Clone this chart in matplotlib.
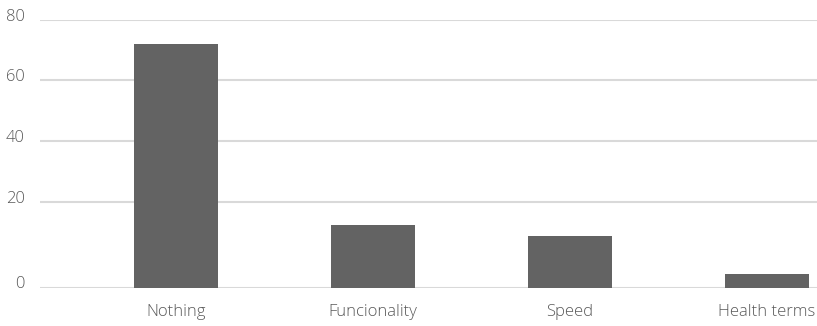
import numpy as np
import matplotlib
matplotlib.use("Agg")
import matplotlib.pyplot as plt
from matplotlib.transforms import ScaledTranslation

categories = ["Nothing", "Funcionality", "Speed", "Health terms"]
values = [72, 14.5, 12, 3.1]
y_ticks = [0, 20, 40, 60, 80]

plt.rcParams["font.family"] = ["Open Sans", "DejaVu Sans"]

# The 0-20 band is drawn taller than the bands above it
LOW_STRETCH = 86 / 61


def fwd(v):
    v = np.asarray(v, dtype=float)
    return np.where(v <= 20, v * LOW_STRETCH, 20 * LOW_STRETCH + (v - 20))


def inv(u):
    u = np.asarray(u, dtype=float)
    return np.where(u <= 20 * LOW_STRETCH, u / LOW_STRETCH, (u - 20 * LOW_STRETCH) + 20)


fig = plt.figure(figsize=(8.17, 3.26), dpi=100)
ax = fig.add_axes([40 / 817, (326 - 287.5) / 326, 1 - 40 / 817, (287.5 - 19.5) / 326])
ax.set_yscale("function", functions=(fwd, inv))

x = np.arange(len(categories))
ax.bar(x, values, width=0.426, color="#636363", zorder=3)

ax.set_ylim(0, 80)
ax.set_xlim(-0.690, 3.254)
ax.set_yticks(y_ticks)
ax.set_yticklabels([str(t) for t in y_ticks])
ax.set_xticks(x)
ax.set_xticklabels(categories)

ax.grid(axis="y", color="#d9d9d9", linewidth=1.5, zorder=0)
ax.grid(axis="x", visible=False)
for s in ax.spines.values():
    s.set_visible(False)

ax.tick_params(axis="both", length=0, colors="#595959", labelsize=12)
ax.tick_params(axis="y", pad=10.8)
ax.tick_params(axis="x", pad=12)

for lab in ax.get_yticklabels() + ax.get_xticklabels():
    lab.set_fontweight("light")
for lab in ax.get_yticklabels():
    lab.set_transform(lab.get_transform() + ScaledTranslation(0, 5 / 100, fig.dpi_scale_trans))

fig.savefig("out.png", dpi=100)
